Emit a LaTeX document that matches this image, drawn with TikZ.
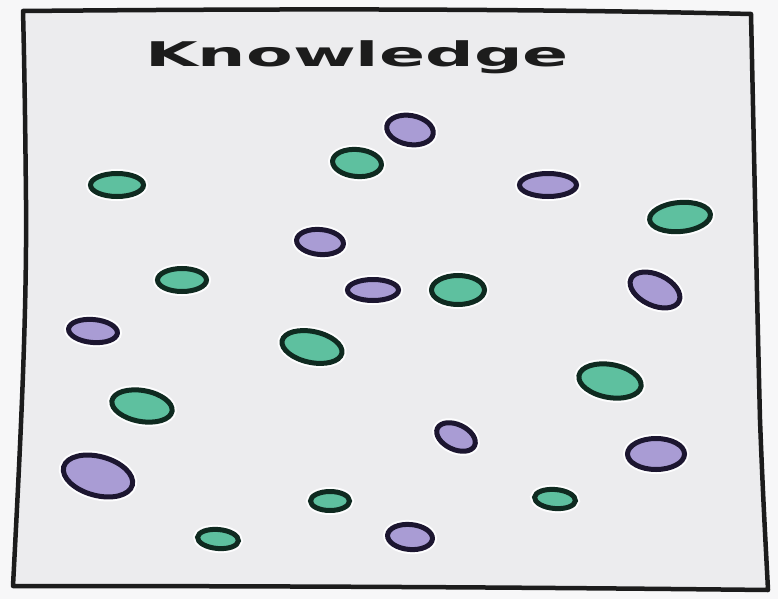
\documentclass[tikz,border=0pt]{standalone}
\usepackage{fontspec}
\setmainfont{DejaVu Sans}
\usepackage{graphicx}
\definecolor{bgin}{HTML}{ECECEE}
\definecolor{bgout}{HTML}{F7F7F8}
\definecolor{frame}{HTML}{1C1C1C}
\definecolor{gfill}{HTML}{5EC09F}
\definecolor{gline}{HTML}{0F2A20}
\definecolor{pfill}{HTML}{A99CD4}
\definecolor{pline}{HTML}{1C1630}
\tikzset{
  gdot/.style={fill=gfill, draw=gline, line width=5pt, preaction={draw=white!92!bgin, line width=9pt}},
  pdot/.style={fill=pfill, draw=pline, line width=5pt, preaction={draw=white!92!bgin, line width=9pt}},
  framestyle/.style={draw=frame, line width=4.5pt, line join=round, line cap=round, fill=bgin}
}
\newcommand\blob[6]{\draw[#1, shift={(#2,#3)}, rotate=#6] (0,0) ellipse (#4 and #5);}
\begin{document}
\begin{tikzpicture}[x=1pt, y=-1pt]
\fill[bgout] (0,0) rectangle (778,599);
\useasboundingbox (0,0) rectangle (778,599);
% frame
\path[framestyle] (23,11) .. controls (250,9) and (500,8) .. (751,14)
  .. controls (754,150) and (757,300) .. (760,420)
  .. controls (763,500) and (766,550) .. (768,590)
  .. controls (500,587) and (250,586) .. (13,586)
  .. controls (20,450) and (27,320) .. (26,200)
  .. controls (25,100) and (24,50) .. (23,11) -- cycle;
% title
\node[anchor=base, text=frame, font=\bfseries\fontsize{34}{40}\selectfont] (title) at (357,67) {\scalebox{2.0}[1]{Knowledge}};
% green blobs
\blob{gdot}{117}{185}{26.5}{11.5}{0}
\blob{gdot}{357}{163}{24.5}{13.5}{-5}
\blob{gdot}{680}{217}{30.5}{14.5}{5}
\blob{gdot}{182}{280}{24.5}{11.5}{0}
\blob{gdot}{458}{290}{26.5}{14.5}{0}
\blob{gdot}{312}{347}{30.5}{15.5}{-12}
\blob{gdot}{610}{381}{31.5}{16.5}{-10}
\blob{gdot}{142}{406}{30.5}{15.5}{-10}
\blob{gdot}{330}{501}{19.5}{9.5}{0}
\blob{gdot}{555}{499}{20.5}{9.5}{-5}
\blob{gdot}{218}{539}{20.5}{9.5}{-5}
% purple blobs
\blob{pdot}{410}{130}{23.5}{14.5}{-10}
\blob{pdot}{548}{185}{28.5}{11.5}{0}
\blob{pdot}{320}{242}{23.5}{12.5}{-5}
\blob{pdot}{373}{290}{25.5}{10.5}{0}
\blob{pdot}{655}{290}{26.5}{15.5}{-25}
\blob{pdot}{93}{331}{24.5}{11.5}{-5}
\blob{pdot}{456}{437}{20.5}{12.5}{-25}
\blob{pdot}{656}{454}{28.5}{15.5}{0}
\blob{pdot}{98}{476}{35.5}{19.5}{-15}
\blob{pdot}{410}{537}{22.5}{12.5}{-5}
\end{tikzpicture}
\end{document}
